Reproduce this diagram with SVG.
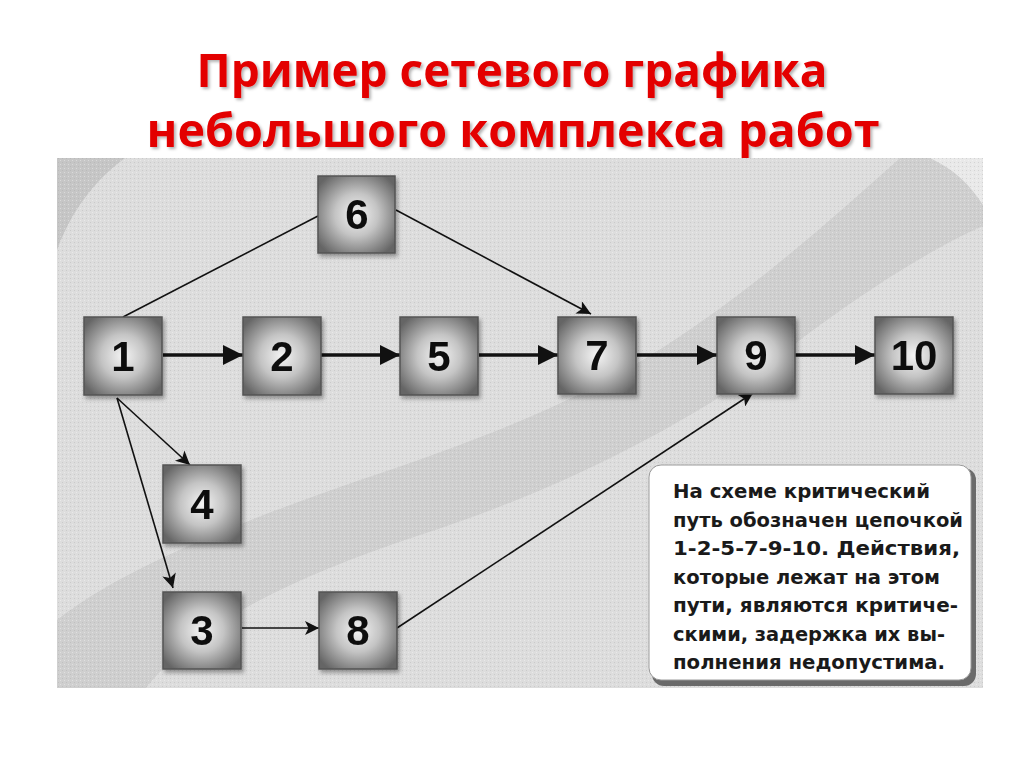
<svg xmlns="http://www.w3.org/2000/svg" width="1024" height="768" viewBox="0 0 1024 768">
<defs>
<style>
.title{font-family:"Open Sans","Liberation Sans",sans-serif;font-weight:700;font-size:46px;fill:#e30000;text-anchor:middle}
.num{font-family:"Liberation Sans",Arial,sans-serif;font-weight:700;font-size:42px;fill:#111;text-anchor:middle}
.note{font-family:"DejaVu Sans Condensed","Liberation Sans",sans-serif;font-weight:700;font-size:19px;fill:#1a1a1a}
.box{fill:url(#g);stroke:#555;stroke-width:1.5}
.thick{stroke:#111;stroke-width:3.5;fill:none}
.thin{stroke:#111;stroke-width:1.6;fill:none}
</style>
<radialGradient id="g" cx="0.5" cy="0.5" r="0.62">
<stop offset="0" stop-color="#f4f4f4"/>
<stop offset="0.45" stop-color="#c4c4c4"/>
<stop offset="1" stop-color="#656565"/>
</radialGradient>
<filter id="sh" x="-20%" y="-20%" width="150%" height="150%">
<feDropShadow dx="2" dy="3" stdDeviation="2" flood-color="#000" flood-opacity="0.35"/>
</filter>
<filter id="tsh" x="-5%" y="-20%" width="110%" height="150%">
<feDropShadow dx="2" dy="2" stdDeviation="1.5" flood-color="#000" flood-opacity="0.3"/>
</filter>
<pattern id="dots" width="4" height="4" patternUnits="userSpaceOnUse">
<rect width="4" height="4" fill="none"/>
<rect x="0" y="0" width="1" height="1" fill="#ffffff" opacity="0.35"/>
<rect x="2" y="2" width="1" height="1" fill="#a0a0a0" opacity="0.3"/>
</pattern>
<marker id="ab" viewBox="0 0 10 10" refX="10" refY="5" markerUnits="userSpaceOnUse" markerWidth="22" markerHeight="20" orient="auto">
<path d="M0,0 L10,5 L0,10 Z" fill="#111"/>
</marker>
<marker id="as" viewBox="0 0 10 10" refX="10" refY="5" markerUnits="userSpaceOnUse" markerWidth="20" markerHeight="14" orient="auto">
<path d="M0,0 L10,5 L0,10 L2.5,5 Z" fill="#111"/>
</marker>
</defs>
<rect width="1024" height="768" fill="#ffffff"/>

<g id="title">
<text class="title" x="512" y="87" textLength="631" lengthAdjust="spacingAndGlyphs" filter="url(#tsh)">Пример сетевого графика</text>
<text class="title" x="513" y="147" textLength="733" lengthAdjust="spacingAndGlyphs" filter="url(#tsh)">небольшого комплекса работ</text>
</g>

<g id="background">
<rect x="57" y="158" width="926" height="530" fill="#dddddd"/>
<path d="M57,158 L125,158 C95,180 72,210 57,250 Z" fill="#c6c6c6"/>
<path d="M900,158 C820,230 740,300 651,355 C580,400 480,440 360,480 C230,525 120,570 57,620 L57,688 L146,688 C200,620 300,575 420,535 C560,490 700,420 800,340 C880,280 940,245 983,226 L983,158 Z" fill="#cfcfcf"/>
<path d="M930,158 L983,158 L983,205 C970,185 955,170 930,158 Z" fill="#e9e9e9"/>
<rect x="57" y="158" width="926" height="530" fill="url(#dots)"/>
</g>

<g id="connectors">
<line class="thick" x1="163" y1="355" x2="243" y2="355" marker-end="url(#ab)"/>
<line class="thick" x1="321" y1="355" x2="400" y2="355" marker-end="url(#ab)"/>
<line class="thick" x1="479" y1="355" x2="558" y2="355" marker-end="url(#ab)"/>
<line class="thick" x1="637" y1="355" x2="717" y2="355" marker-end="url(#ab)"/>
<line class="thick" x1="795" y1="355" x2="875" y2="355" marker-end="url(#ab)"/>
<line class="thin" x1="123" y1="317" x2="318" y2="216"/>
<line class="thin" x1="396" y1="210" x2="591" y2="314" marker-end="url(#as)"/>
<line class="thin" x1="117" y1="398" x2="190" y2="465" marker-end="url(#as)"/>
<line class="thin" x1="117" y1="398" x2="173" y2="588" marker-end="url(#as)"/>
<line class="thin" x1="242" y1="628" x2="319" y2="628" marker-end="url(#as)"/>
<line class="thin" x1="397" y1="628" x2="753" y2="393" marker-end="url(#as)"/>
</g>

<g id="n1" filter="url(#sh)"><rect class="box" x="84" y="317" width="78" height="78"/><text class="num" x="123" y="371">1</text></g>
<g id="n2" filter="url(#sh)"><rect class="box" x="243" y="317" width="78" height="78"/><text class="num" x="282" y="371">2</text></g>
<g id="n5" filter="url(#sh)"><rect class="box" x="400" y="317" width="78" height="78"/><text class="num" x="439" y="371">5</text></g>
<g id="n7" filter="url(#sh)"><rect class="box" x="558" y="317" width="78" height="77"/><text class="num" x="597" y="370">7</text></g>
<g id="n9" filter="url(#sh)"><rect class="box" x="717" y="317" width="78" height="77"/><text class="num" x="756" y="370">9</text></g>
<g id="n10" filter="url(#sh)"><rect class="box" x="875" y="317" width="78" height="77"/><text class="num" x="914" y="370">10</text></g>
<g id="n6" filter="url(#sh)"><rect class="box" x="318" y="176" width="77" height="77"/><text class="num" x="357" y="229">6</text></g>
<g id="n4" filter="url(#sh)"><rect class="box" x="163" y="465" width="78" height="78"/><text class="num" x="202" y="519">4</text></g>
<g id="n3" filter="url(#sh)"><rect class="box" x="163" y="592" width="78" height="77"/><text class="num" x="202" y="645">3</text></g>
<g id="n8" filter="url(#sh)"><rect class="box" x="319" y="592" width="78" height="77"/><text class="num" x="358" y="645">8</text></g>

<g id="note">
<rect x="652" y="468" width="324" height="218" rx="12" fill="#6a6a6a"/>
<rect x="649" y="465" width="322" height="215" rx="12" fill="#ffffff" stroke="#9a9a9a" stroke-width="1"/>
<text class="note" x="673" y="498" textLength="257" lengthAdjust="spacingAndGlyphs">На схеме критический</text>
<text class="note" x="673" y="527" textLength="290" lengthAdjust="spacingAndGlyphs">путь обозначен цепочкой</text>
<text class="note" x="673" y="555" textLength="287" lengthAdjust="spacingAndGlyphs">1-2-5-7-9-10. Действия,</text>
<text class="note" x="673" y="584" textLength="267" lengthAdjust="spacingAndGlyphs">которые лежат на этом</text>
<text class="note" x="673" y="612" textLength="285" lengthAdjust="spacingAndGlyphs">пути, являются критиче-</text>
<text class="note" x="673" y="641" textLength="272" lengthAdjust="spacingAndGlyphs">скими, задержка их вы-</text>
<text class="note" x="673" y="669" textLength="272" lengthAdjust="spacingAndGlyphs">полнения недопустима.</text>
</g>
</svg>
